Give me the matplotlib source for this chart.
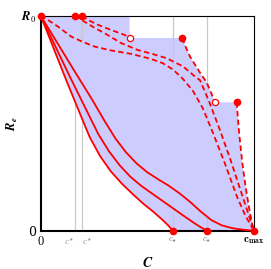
import numpy as np
import matplotlib
matplotlib.use("Agg")
from matplotlib import pyplot as plt

plt.rcParams['mathtext.fontset'] = 'cm'
plt.rcParams['font.family'] = 'DejaVu Serif'

R0 = 1.0
cmax = 1.0
c_up = [0.162, 0.195]      # c^*
c_low = [0.62, 0.78]       # c_*

# solid curves (lower bounds)
s1_x = [0, 0.06, 0.12, 0.18, 0.23, 0.28, 0.33, 0.38, 0.43, 0.48, 0.53, 0.57, 0.60, 0.62]
s1_y = [1, 0.85, 0.70, 0.555, 0.435, 0.345, 0.275, 0.22, 0.172, 0.127, 0.087, 0.052, 0.023, 0]
s2_x = [0, 0.07, 0.14, 0.21, 0.27, 0.32, 0.37, 0.42, 0.47, 0.52, 0.57, 0.62, 0.67, 0.72, 0.75, 0.78]
s2_y = [1, 0.855, 0.71, 0.57, 0.45, 0.37, 0.305, 0.252, 0.21, 0.175, 0.14, 0.105, 0.07, 0.036, 0.017, 0]
s3_x = [0, 0.08, 0.16, 0.24, 0.30, 0.35, 0.40, 0.45, 0.50, 0.55, 0.60, 0.65, 0.70, 0.75, 0.80, 0.85, 0.90, 0.95, 1.0]
s3_y = [1, 0.87, 0.74, 0.612, 0.51, 0.43, 0.365, 0.313, 0.272, 0.24, 0.21, 0.175, 0.135, 0.09, 0.05, 0.025, 0.012, 0.005, 0]

# dashed curves (upper bounds)
dc_x = [0, 0.034, 0.081, 0.144, 0.195, 0.253, 0.331, 0.425, 0.513, 0.57, 0.62, 0.668, 0.714, 0.76, 0.81, 0.865, 0.92, 0.96, 1.0]
dc_y = [1, 0.98, 0.949, 0.902, 0.879, 0.856, 0.838, 0.822, 0.80, 0.78, 0.75, 0.705, 0.65, 0.57, 0.45, 0.31, 0.16, 0.07, 0]
db_x = [0.162, 0.20, 0.25, 0.30, 0.378, 0.456, 0.513, 0.591, 0.669, 0.72, 0.747, 0.79, 0.84, 0.89, 0.94, 0.97, 1.0]
db_y = [1, 0.975, 0.945, 0.918, 0.872, 0.840, 0.825, 0.802, 0.763, 0.72, 0.70, 0.60, 0.47, 0.33, 0.18, 0.09, 0]
da1_x = [0.195, 0.222, 0.269, 0.331, 0.394, 0.417]
da1_y = [1, 0.98, 0.957, 0.933, 0.910, 0.896]
da2_x = [0.664, 0.682, 0.700, 0.725, 0.747, 0.778, 0.80, 0.817]
da2_y = [0.896, 0.85, 0.81, 0.77, 0.735, 0.69, 0.64, 0.597]
da3_x = [0.919, 0.93, 0.945, 0.96, 0.975, 0.99, 1.0]
da3_y = [0.597, 0.46, 0.32, 0.21, 0.12, 0.04, 0]

red = '#ff0000'
fill_col = '#ccccff'
grey = '#c8c8c8'

fig = plt.figure(figsize=(2.71, 2.69), dpi=100)
ax = fig.add_axes([0.150, 0.142, 0.787, 0.800])

# grey marker lines under the fill
for c in c_up + c_low:
    ax.axvline(c, color=grey, lw=0.8, zorder=0)

# shaded region between lowest solid and the upper envelope
top_x = [0, da1_x[-1], da1_x[-1]] + da2_x + da3_x
top_y = [R0, R0, da1_y[-1]] + da2_y + da3_y
bot_x = [cmax, c_low[0]] + s1_x[::-1]
bot_y = [0, 0] + s1_y[::-1]
ax.fill(top_x + bot_x, top_y + bot_y, color=fill_col, lw=0, zorder=1)

# grey pieces visible over the fill
seg_kw = dict(color=grey, lw=0.8, zorder=2)
ax.plot([c_up[1]] * 2, [np.interp(c_up[1], dc_x, dc_y), R0], **seg_kw)
for c in c_low:
    ax.plot([c, c], [np.interp(c, dc_x, dc_y), R0], **seg_kw)
ax.plot([c_low[0]] * 2, [0, np.interp(c_low[0], s2_x, s2_y)], **seg_kw)
ax.plot([c_low[1]] * 2, [0, np.interp(c_low[1], s3_x, s3_y)], **seg_kw)

# curves
for xs, ys in [(s1_x, s1_y), (s2_x, s2_y), (s3_x, s3_y)]:
    ax.plot(xs, ys, color=red, lw=1.3, zorder=3, clip_on=False, solid_joinstyle='round')
dash = (0, (3, 1.8))
for xs, ys in [(dc_x, dc_y), (db_x, db_y), (da1_x, da1_y), (da2_x, da2_y), (da3_x, da3_y)]:
    ax.plot(xs, ys, color=red, lw=1.3, ls=dash, zorder=3, clip_on=False)

# markers
mk = dict(ms=4.5, zorder=5, clip_on=False, ls='none')
ax.plot([0] + c_up, [R0] * 3, 'o', color=red, **mk)
ax.plot([da2_x[0], da3_x[0]], [da2_y[0], da3_y[0]], 'o', color=red, **mk)
ax.plot(c_low + [cmax], [0, 0, 0], 'o', color=red, **mk)
ax.plot([da1_x[-1], da2_x[-1]], [da1_y[-1], da2_y[-1]], 'o', mfc='white', mec=red, mew=0.9, **mk)

ax.set_xlim(0, cmax)
ax.set_ylim(0, R0)

ax.set_xticks([0] + c_up + c_low + [cmax])
ax.set_xticklabels([r'$\mathbf{0}$', r'$c^{\star}$', r'$c^{\star}$', r'$c_{\star}$', r'$c_{\star}$',
                    r'$\mathbf{c}_{\mathbf{max}}$'])
tl = ax.get_xticklabels()
tl[0].set_fontsize(9)
for t in tl[1:3]:
    t.set_color('#888888')
    t.set_fontsize(6.5)
tl[1].set_horizontalalignment('right')
tl[2].set_horizontalalignment('left')
for t in tl[3:5]:
    t.set_color('#666666')
    t.set_fontsize(6)
tl[5].set_fontsize(8)
ax.set_yticks([0, R0])
ax.set_yticklabels(['0', r'$\mathbfit{R}_\mathbf{0}$'], fontsize=9)
ax.tick_params(length=0, pad=3)

ax.set_xlabel(r'$\mathbfit{C}$', fontsize=10, labelpad=6)
ax.set_ylabel(r'$\mathbfit{R}_\mathbfit{e}$', fontsize=9, labelpad=1)

for s in ['left', 'bottom']:
    ax.spines[s].set_linewidth(1.5)
for s in ['top', 'right']:
    ax.spines[s].set_linewidth(0.8)

fig.savefig('out.png', dpi=100)
